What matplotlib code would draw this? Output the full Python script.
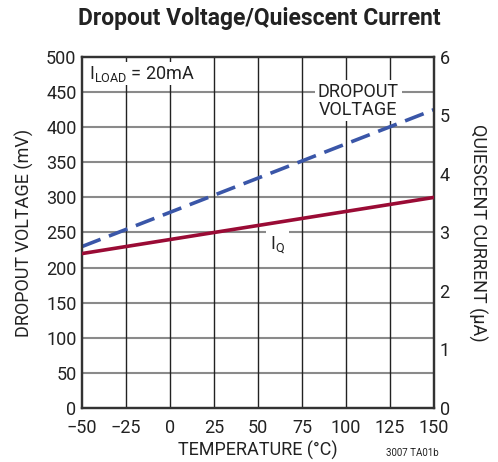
import matplotlib
matplotlib.use('Agg')
import matplotlib.pyplot as plt
import numpy as np

plt.rcParams['font.family'] = ['Roboto', 'DejaVu Sans']
plt.rcParams['mathtext.fontset'] = 'custom'
plt.rcParams['mathtext.rm'] = 'Roboto'

# data
temp = [-50, 150]
dropout_mv = [230, 425]
iq_ua = [2.64, 3.6]

xticks = [-50, -25, 0, 25, 50, 75, 100, 125, 150]
xticklabels = ['\u221250', '\u221225', '0', '25', '50', '75', '100', '125', '150']
yticks_mv = [0, 50, 100, 150, 200, 250, 300, 350, 400, 450, 500]
yticks_ua = [0, 1, 2, 3, 4, 5, 6]

fs = 13
txt_col = '#222222'

fig = plt.figure(figsize=(4.98, 4.62), dpi=100)
ax = fig.add_axes([82/498, 1-408/462, 352/498, 351/462])
ax2 = ax.twinx()

ax.set_xlim(-50, 150)
ax.set_ylim(0, 500)
ax2.set_ylim(0, 6)

for y in yticks_mv[1:-1]:
    ax.axhline(y, color='#8a8a8a', lw=1.5, zorder=1)
for x in xticks[1:-1]:
    ax.axvline(x, color='#222222', lw=1.0, zorder=1)

ax.plot(temp, dropout_mv, color='#3a56a8', lw=2.6, dashes=(5.5, 2.5), zorder=4)
ax2.plot(temp, iq_ua, color='#9a0b35', lw=2.6, zorder=4)

ax.set_xticks(xticks)
ax.set_xticklabels(xticklabels)
ax.set_yticks(yticks_mv)
ax2.set_yticks(yticks_ua)
for a in (ax, ax2):
    a.tick_params(length=0, labelsize=fs, colors=txt_col, pad=4)
    for s in a.spines.values():
        s.set_color('#333333')
        s.set_linewidth(1.6)
ax.tick_params(axis='x', pad=8)

ax.set_xlabel('TEMPERATURE (\u00b0C)', fontsize=fs, color=txt_col, labelpad=3)
ax.set_ylabel('DROPOUT VOLTAGE (mV)', fontsize=fs, color=txt_col, labelpad=9)
ax2.set_ylabel('QUIESCENT CURRENT (\u03bcA)', fontsize=fs, color=txt_col,
               rotation=270, labelpad=27)

fig.suptitle('Dropout Voltage/Quiescent Current', x=0.52, y=0.985,
             fontsize=16.5, fontweight='bold', color=txt_col)

ax.text(-46, 476, r'I$_\mathregular{LOAD}$ = 20mA', fontsize=fs, color=txt_col,
        ha='left', va='center', zorder=5,
        bbox=dict(facecolor='white', edgecolor='none', pad=1))
ax.text(107, 438, 'DROPOUT\nVOLTAGE', fontsize=fs, color=txt_col,
        ha='center', va='center', linespacing=1.0, zorder=5,
        bbox=dict(facecolor='white', edgecolor='none', pad=2))
ax.text(61, 233, r'I$_\mathregular{Q}$', fontsize=fs, color=txt_col,
        ha='center', va='center', zorder=5,
        bbox=dict(facecolor='white', edgecolor='none', pad=3))

fig.text(412/498, 1-453/462, '3007 TA01b', fontsize=7, color=txt_col,
         ha='center', va='center')

fig.savefig('out.png', dpi=100)
